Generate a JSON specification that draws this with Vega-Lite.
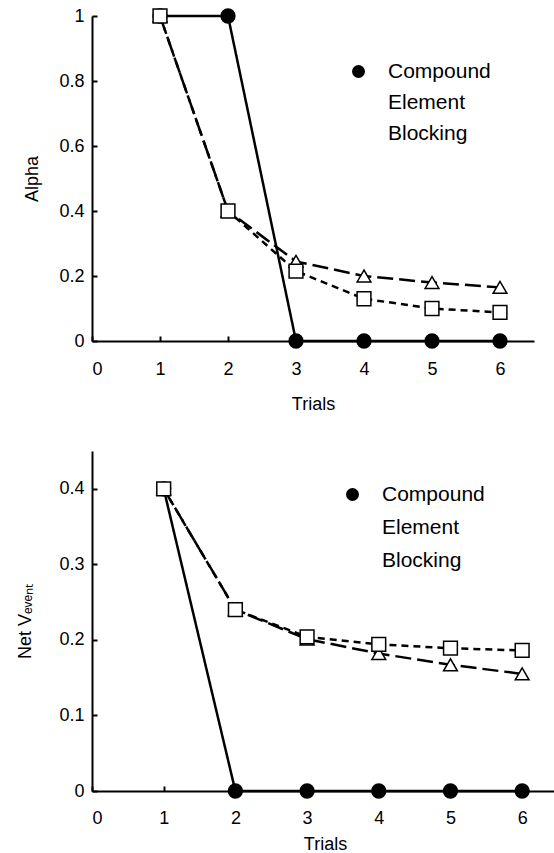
{
  "$schema": "https://vega.github.io/schema/vega-lite/v6.json",
  "padding": {"left": 16, "top": 6, "right": 0, "bottom": 0},
  "spacing": 38,
  "background": "white",
  "config": {
    "view": {"stroke": null},
    "font": "Liberation Sans",
    "axis": {
      "grid": false,
      "domainColor": "black",
      "domainWidth": 2,
      "tickColor": "black",
      "tickWidth": 2,
      "tickSize": -5,
      "labelFont": "Liberation Sans",
      "labelFontSize": 18,
      "labelColor": "black",
      "titleFont": "Liberation Sans",
      "titleFontSize": 18,
      "titleFontWeight": "normal",
      "titleColor": "black"
    },
    "legend": {
      "padding": 0,
      "labelFont": "Liberation Sans",
      "labelFontSize": 21,
      "labelColor": "black",
      "symbolSize": 169,
      "symbolStrokeWidth": 1.5,
      "symbolStrokeColor": "black",
      "labelOffset": 19,
      "rowPadding": 9
    }
  },
  "resolve": {
    "scale": {"shape": "independent", "fill": "independent", "strokeDash": "independent", "x": "independent", "y": "independent"},
    "legend": {"shape": "independent", "fill": "independent", "strokeDash": "independent"}
  },
  "datasets": {
    "alpha": [
      {"series": "Compound", "trial": 1, "value": 1},
      {"series": "Compound", "trial": 2, "value": 1},
      {"series": "Compound", "trial": 3, "value": 0},
      {"series": "Compound", "trial": 4, "value": 0},
      {"series": "Compound", "trial": 5, "value": 0},
      {"series": "Compound", "trial": 6, "value": 0},
      {"series": "Element", "trial": 1, "value": 1},
      {"series": "Element", "trial": 2, "value": 0.4},
      {"series": "Element", "trial": 3, "value": 0.245},
      {"series": "Element", "trial": 4, "value": 0.2},
      {"series": "Element", "trial": 5, "value": 0.18},
      {"series": "Element", "trial": 6, "value": 0.165},
      {"series": "Blocking", "trial": 1, "value": 1},
      {"series": "Blocking", "trial": 2, "value": 0.4},
      {"series": "Blocking", "trial": 3, "value": 0.215},
      {"series": "Blocking", "trial": 4, "value": 0.13},
      {"series": "Blocking", "trial": 5, "value": 0.1},
      {"series": "Blocking", "trial": 6, "value": 0.088}
    ],
    "netv": [
      {"series": "Compound", "trial": 1, "value": 0.4},
      {"series": "Compound", "trial": 2, "value": 0},
      {"series": "Compound", "trial": 3, "value": 0},
      {"series": "Compound", "trial": 4, "value": 0},
      {"series": "Compound", "trial": 5, "value": 0},
      {"series": "Compound", "trial": 6, "value": 0},
      {"series": "Element", "trial": 1, "value": 0.4},
      {"series": "Element", "trial": 2, "value": 0.24},
      {"series": "Element", "trial": 3, "value": 0.201},
      {"series": "Element", "trial": 4, "value": 0.182},
      {"series": "Element", "trial": 5, "value": 0.167},
      {"series": "Element", "trial": 6, "value": 0.155},
      {"series": "Blocking", "trial": 1, "value": 0.4},
      {"series": "Blocking", "trial": 2, "value": 0.24},
      {"series": "Blocking", "trial": 3, "value": 0.204},
      {"series": "Blocking", "trial": 4, "value": 0.194},
      {"series": "Blocking", "trial": 5, "value": 0.189},
      {"series": "Blocking", "trial": 6, "value": 0.186}
    ]
  },
  "vconcat": [
    {
      "width": 442,
      "height": 325,
      "data": {"name": "alpha"},
      "encoding": {
        "x": {"field": "trial", "type": "quantitative", "scale": {"domain": [0, 6.5], "nice": false},
              "axis": {"values": [0, 1, 2, 3, 4, 5, 6], "title": "Trials", "labelPadding": 24, "titlePadding": 17}},
        "y": {"field": "value", "type": "quantitative", "scale": {"domain": [0, 1], "nice": false},
              "axis": {"values": [0, 0.2, 0.4, 0.6, 0.8, 1], "format": "~g", "title": "Alpha", "labelPadding": 13, "titlePadding": 17}}
      },
      "layer": [
        {
          "mark": {"type": "line", "stroke": "black", "strokeWidth": 2.5},
          "encoding": {
            "strokeDash": {"field": "series", "type": "nominal",
              "scale": {"domain": ["Element", "Blocking", "Compound"], "range": [[16, 6], [7, 5], [1, 0]]},
              "legend": null}
          }
        },
        {
          "mark": {"type": "point", "filled": true, "stroke": "black", "strokeWidth": 1.5, "size": 190, "opacity": 1},
          "encoding": {
            "fill": {"field": "series", "type": "nominal",
              "scale": {"domain": ["Compound", "Element", "Blocking"], "range": ["black", "white", "white"]},
              "legend": {
                "orient": "none", "title": null,
                "legendX": 256, "legendY": 45,
                "encode": {"symbols": {
                  "stroke": {"value": "black"},
                  "strokeWidth": {"value": 1.5},
                  "opacity": {"value": 1}
                }}
              }},
            "shape": {"field": "series", "type": "nominal",
              "scale": {"domain": ["Compound", "Element", "Blocking"], "range": ["circle", "triangle-up", "square"]},
              "legend": {
                "orient": "none", "title": null,
                "legendX": 256, "legendY": 45,
                "encode": {"symbols": {
                  "stroke": {"value": "black"},
                  "strokeWidth": {"value": 1.5},
                  "opacity": {"value": 1}
                }}
              }}
          }
        }
      ]
    },
    {
      "width": 466,
      "height": 340,
      "data": {"name": "netv"},
      "encoding": {
        "x": {"field": "trial", "type": "quantitative", "scale": {"domain": [0, 6.5], "nice": false},
              "axis": {"values": [0, 1, 2, 3, 4, 5, 6], "title": "Trials", "labelPadding": 23, "titlePadding": 8}},
        "y": {"field": "value", "type": "quantitative", "scale": {"domain": [0, 0.45], "nice": false},
              "axis": {"values": [0, 0.1, 0.2, 0.3, 0.4], "format": "~g", "title": "Net Vₑᵥₑₙₜ", "labelPadding": 13, "titlePadding": 24}}
      },
      "layer": [
        {
          "mark": {"type": "line", "stroke": "black", "strokeWidth": 2.5},
          "encoding": {
            "strokeDash": {"field": "series", "type": "nominal",
              "scale": {"domain": ["Element", "Blocking", "Compound"], "range": [[16, 6], [7, 5], [1, 0]]},
              "legend": null}
          }
        },
        {
          "mark": {"type": "point", "filled": true, "stroke": "black", "strokeWidth": 1.5, "size": 190, "opacity": 1},
          "encoding": {
            "fill": {"field": "series", "type": "nominal",
              "scale": {"domain": ["Compound", "Element", "Blocking"], "range": ["black", "white", "white"]},
              "legend": {
                "orient": "none", "title": null,
                "legendX": 250, "legendY": 33, "rowPadding": 11,
                "encode": {"symbols": {
                  "stroke": {"value": "black"},
                  "strokeWidth": {"value": 1.5},
                  "opacity": {"value": 1}
                }}
              }},
            "shape": {"field": "series", "type": "nominal",
              "scale": {"domain": ["Compound", "Element", "Blocking"], "range": ["circle", "triangle-up", "square"]},
              "legend": {
                "orient": "none", "title": null,
                "legendX": 250, "legendY": 33, "rowPadding": 11,
                "encode": {"symbols": {
                  "stroke": {"value": "black"},
                  "strokeWidth": {"value": 1.5},
                  "opacity": {"value": 1}
                }}
              }}
          }
        }
      ]
    }
  ]
}
